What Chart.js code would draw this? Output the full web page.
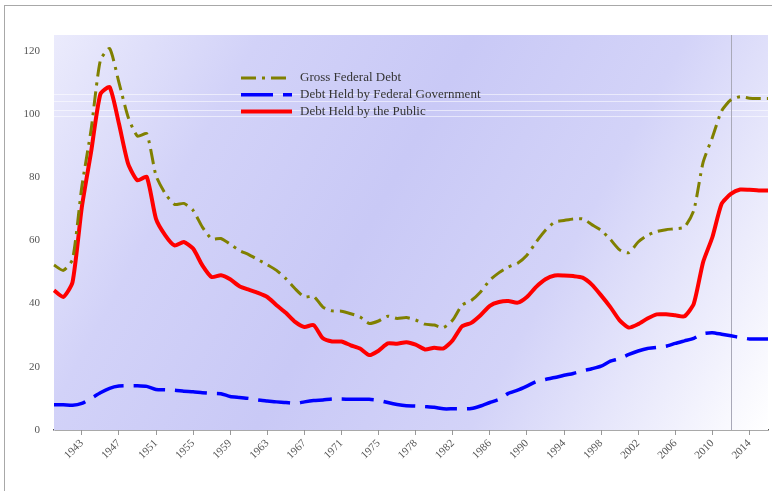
<!DOCTYPE html>
<html>
<head>
<meta charset="utf-8">
<script src="https://cdn.jsdelivr.net/npm/chart.js@4/dist/chart.umd.min.js"></script>
<style>
html,body{margin:0;padding:0;background:#fff;overflow:hidden;width:772px;height:491px}
#frame{position:absolute;left:4px;top:5px;width:800px;height:520px;border-left:1px solid #a8a8a8;border-top:1px solid #a8a8a8}
#debtChart{position:absolute;left:0;top:0}
</style>
</head>
<body>
<div id="frame"></div>
<canvas id="debtChart" width="772" height="491"></canvas>
<script>

// =============================
// DATA (% of GDP)
// =============================

const years=[]
for(let y=1940;y<=1976;y++) years.push(String(y))
years.push("TQ")
for(let y=1977;y<=2016;y++) years.push(String(y))

const grossDebt=[
52.2,50.5,54,77,95,117,120.7,110,99,93,
93.8,80.5,74.8,71.4,71.7,69.5,64.2,60.5,60.6,58.8,
56.8,55.5,53.9,52.3,50.5,47.9,44.7,42.1,42.3,38.9,
37.7,37.6,36.8,35.8,33.7,34.5,36,35.3,35.6,34.8,
33.5,33.2,32.4,34.8,39.5,41,43.7,47.4,49.8,51.6,
52.8,55.3,59.5,63.2,65.8,66.3,66.8,66.8,65,63.2,
60.3,57,56.1,59.5,61.6,62.8,63.4,63.7,64.2,69.5,
84.7,92.6,101,104.5,105.5,105,104.9,104.9
]

const fedGovDebt=[
8,8,7.8,8.4,10,11.8,13.2,13.9,14,14,
13.8,12.8,12.7,12.6,12.3,12.1,11.8,11.6,11.5,10.6,
10.3,10,9.5,9.2,8.9,8.7,8.4,8.9,9.3,9.5,
9.8,9.8,9.7,9.7,9.7,9.4,8.7,8.1,7.7,7.6,
7.4,7.2,6.7,6.7,6.7,6.8,7.6,8.7,9.7,11.6,
12.6,13.9,15.3,16,16.6,17.3,17.9,18.7,19.4,20.2,
21.8,22.6,23.9,25,25.8,26.1,26.5,27.4,28.2,29,
30.5,30.8,30.3,29.8,29.3,28.8,28.8,28.8
]

const publicDebt=[
44.2,42.1,46.8,70.5,88,106.3,108.5,97,84.2,79,
80.1,66.8,61.6,58.4,59.5,57.4,52.1,48.4,49,47.7,
45.5,44.4,43.4,42.1,39.5,37.1,34.2,32.6,33.2,29,
28,28,26.8,25.8,23.7,25.1,27.4,27.3,27.8,27,
25.5,26,25.8,28.4,32.8,33.9,36.3,39.3,40.5,40.8,
40.3,42.1,45.3,47.7,48.9,48.9,48.7,48.2,46,42.6,
38.9,34.7,32.4,33.5,35.3,36.6,36.6,36.3,36,40,
53.1,61,71.6,74.7,76.1,76,75.8,75.8
]

const seriesNames=[
"Gross Federal Debt",
"Debt Held by Federal Government",
"Debt Held by the Public"
]

const yTicks=[0,20,40,60,80,100,120]
const markerYear="2012"
const faintLines=[106.3,104.2,101.3,99.5]


// =============================
// BACKGROUND + MARKERS
// =============================

const backdrop={
id:"backdrop",
beforeDatasetsDraw(chart){
const {ctx,chartArea:a,scales}=chart
const g=ctx.createLinearGradient(a.left,a.top,a.right,a.bottom)
g.addColorStop(0,"#ebebfc")
g.addColorStop(0.22,"#d2d2f8")
g.addColorStop(0.45,"#c9c9f6")
g.addColorStop(0.68,"#d3d3f8")
g.addColorStop(1,"#ffffff")
ctx.save()
ctx.fillStyle=g
ctx.fillRect(a.left,a.top,a.right-a.left,a.bottom-a.top)

ctx.strokeStyle="rgba(255,255,255,0.55)"
ctx.lineWidth=1
faintLines.forEach(v=>{
let y=Math.round(scales.y.getPixelForValue(v))+0.5
ctx.beginPath()
ctx.moveTo(a.left,y)
ctx.lineTo(a.right,y)
ctx.stroke()
})

let x=Math.round(scales.x.getPixelForValue(years.indexOf(markerYear)))+0.5
ctx.strokeStyle="#a9a9b8"
ctx.beginPath()
ctx.moveTo(x,a.top)
ctx.lineTo(x,a.bottom)
ctx.stroke()
ctx.restore()
}
}


// =============================
// LEGEND INSIDE PLOT
// =============================

const innerLegend={
id:"innerLegend",
afterDatasetsDraw(chart){
const {ctx}=chart
let x0=241,y0=78,step=16.8
ctx.save()
chart.data.datasets.forEach((ds,i)=>{
let y=y0+i*step
ctx.strokeStyle=ds.borderColor
ctx.lineWidth=ds.borderWidth
ctx.setLineDash(ds.borderDash||[])
ctx.lineCap="butt"
ctx.beginPath()
ctx.moveTo(x0,y)
ctx.lineTo(x0+51,y)
ctx.stroke()
ctx.setLineDash([])
ctx.fillStyle="#333"
ctx.font="13px 'Liberation Serif'"
ctx.textBaseline="middle"
ctx.fillText(ds.label,x0+59,y)
})
ctx.restore()
}
}


// =============================
// CHART
// =============================

new Chart(document.getElementById("debtChart"),{

type:"line",

data:{
labels:years,
datasets:[
{
label:seriesNames[0],
data:grossDebt,
borderColor:"#808000",
borderWidth:3,
borderDash:[15,6,3,6],
pointRadius:0,
tension:0.2
},
{
label:seriesNames[1],
data:fedGovDebt,
borderColor:"#0000ff",
borderWidth:3.5,
borderDash:[32,10],
pointRadius:0,
tension:0.2
},
{
label:seriesNames[2],
data:publicDebt,
borderColor:"#ff0000",
borderWidth:4,
pointRadius:0,
tension:0.2,
borderJoinStyle:"round"
}
]
},

plugins:[backdrop,innerLegend],

options:{
responsive:false,
devicePixelRatio:1,
animation:false,
layout:{padding:{top:35,right:4,left:0,bottom:0}},
plugins:{
legend:{display:false},
tooltip:{enabled:false}
},
scales:{
x:{
offset:false,
afterFit(s){s.height=61;s.paddingRight=0;s.paddingLeft=0},
border:{color:"#555",width:1.5},
grid:{
drawOnChartArea:false,
tickLength:5,
color:c=>((c.index-3)%4===0)?"#999":"rgba(0,0,0,0)"
},
ticks:{
autoSkip:false,
maxRotation:45,
minRotation:45,
padding:2,
color:"#555",
font:{family:"Liberation Serif",size:11},
callback:(v,i)=>((i-3)%4===0)?years[i]:""
}
},
y:{
min:0,
max:125,
afterFit(s){s.width=54},
afterBuildTicks(s){s.ticks=yTicks.map(v=>({value:v}))},
border:{color:"#c4c4d4",width:1},
grid:{display:false},
ticks:{
padding:6,
color:"#555",
font:{family:"Liberation Serif",size:11}
}
}
}
}

})

</script>
</body>
</html>
